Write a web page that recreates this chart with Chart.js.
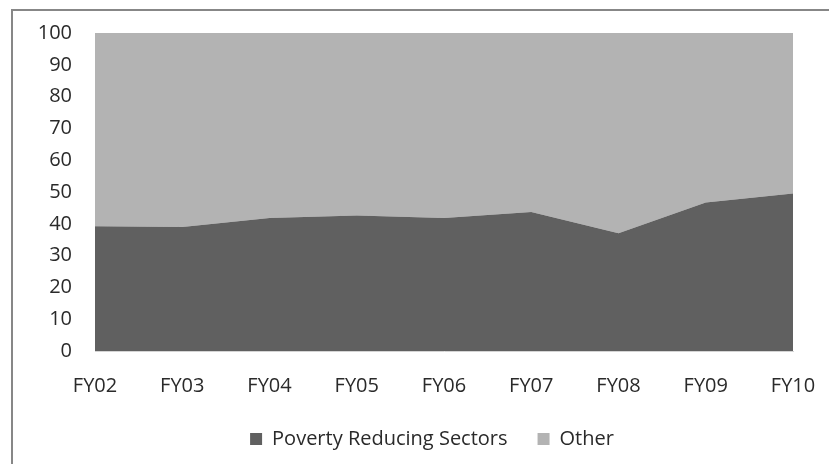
<!DOCTYPE html>
<html>
<head>
<meta charset="utf-8">
<script src="https://cdn.jsdelivr.net/npm/chart.js@4"></script>
<style>
  html, body { margin: 0; padding: 0; background: #fff; overflow: hidden; }
  #frame { position: absolute; left: 11px; top: 9px; width: 900px; height: 500px; border: 2px solid #878787; }
  #wrap { position: absolute; left: 0; top: 0; width: 829px; height: 464px; }
</style>
</head>
<body>
<div id="frame"></div>
<div id="wrap"><canvas id="chart" width="829" height="464"></canvas></div>
<script>
const years = ['FY02', 'FY03', 'FY04', 'FY05', 'FY06', 'FY07', 'FY08', 'FY09', 'FY10'];
const povertySectors = [39.2, 39.0, 41.8, 42.6, 41.8, 43.7, 37.0, 46.7, 49.5];
const other = [60.8, 61.0, 58.2, 57.4, 58.2, 56.3, 63.0, 53.3, 50.5];
const yTicks = [0, 10, 20, 30, 40, 50, 60, 70, 80, 90, 100];

const font = { family: '"Open Sans", sans-serif', size: 20 };
const textColor = '#2a2a2a';

// centre the legend between the y labels and the right edge of the plot
const legendShift = {
    id: 'legendShift',
    afterLayout(chart) {
        chart.legend.left = 71;
        chart.legend.right = chart.chartArea.right;
    }
};

new Chart(document.getElementById('chart').getContext('2d'), {
    type: 'line',
    data: {
        labels: years,
        datasets: [{
            label: 'Poverty Reducing Sectors',
            data: povertySectors,
            backgroundColor: '#606060',
            borderColor: '#606060',
            borderWidth: 0,
            pointRadius: 0,
            fill: 'origin'
        }, {
            label: 'Other',
            data: other,
            backgroundColor: '#b3b3b3',
            borderColor: '#b3b3b3',
            borderWidth: 0,
            pointRadius: 0,
            fill: '-1'
        }]
    },
    options: {
        responsive: false,
        animation: false,
        layout: { padding: { top: 33, right: 36, left: 0, bottom: 5 } },
        plugins: {
            tooltip: { enabled: false },
            legend: {
                position: 'bottom',
                labels: {
                    font: font,
                    color: textColor,
                    boxWidth: 12,
                    boxHeight: 12,
                    padding: 30
                }
            }
        },
        scales: {
            x: {
                offset: false,
                grid: { display: false },
                border: { display: true, color: '#d4d4d4' },
                ticks: { font: font, color: textColor, padding: 15, maxRotation: 0 },
                afterFit: s => { s.height = 48; s.paddingLeft = 0; s.paddingRight = 0; }
            },
            y: {
                stacked: true,
                min: 0,
                max: 100,
                afterBuildTicks: s => { s.ticks = yTicks.map(v => ({ value: v })); },
                grid: { display: false, drawTicks: false },
                border: { display: false },
                ticks: { font: font, color: textColor, padding: 23 },
                afterFit: s => { s.width = 95; s.paddingTop = 0; s.paddingBottom = 0; }
            }
        }
    },
    plugins: [legendShift]
});
</script>
</body>
</html>
